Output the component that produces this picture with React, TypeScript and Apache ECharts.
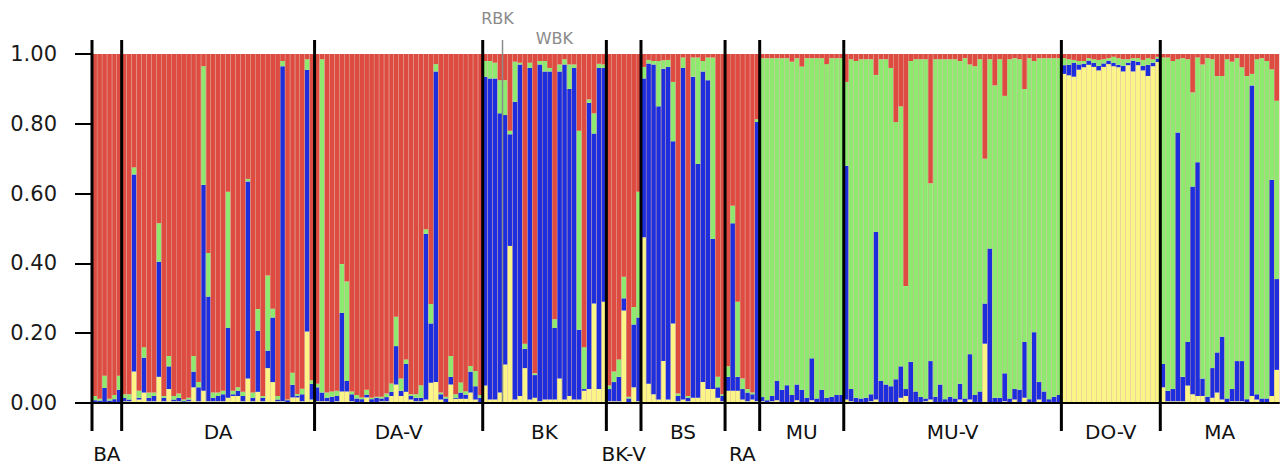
import React, { useEffect, useRef } from "react";
import * as echarts from "echarts";

// Population groups, in plot order
const GROUP_NAMES = ["BA", "DA", "DA-V", "BK", "BK-V", "BS", "RA", "MU", "MU-V", "DO-V", "MA"];
const LOWER_ROW_GROUPS = ["BA", "BK-V", "RA"];
// Clusters, stacked bottom to top
const CLUSTERS = ["K1 (yellow)", "K2 (blue)", "K3 (green)", "K4 (red)"];
const CLUSTER_COLORS = ["#FBF487", "#1E2EDC", "#8DEA6E", "#DE4B40"];
const Y_MAX = 1;
const Y_STEP = 0.2;
// Sub-group marks inside BK
const SUBGROUPS = ["RBK", "WBK"];
const RBK_COUNT = 4;

// Each row: [yellow, blue, green, red] ancestry proportions of one individual
const BA = [
  [0.003, 0.005, 0.012, 0.98],
  [0.002, 0.005, 0.005, 0.988],
  [0.003, 0.04, 0.035, 0.922],
  [0.002, 0.005, 0.005, 0.988],
  [0.003, 0.008, 0.012, 0.977],
  [0.003, 0.035, 0.04, 0.922],
];

const DA = [
  [0.005, 0.01, 0.01, 0.975],
  [0.005, 0.005, 0.015, 0.975],
  [0.09, 0.565, 0.02, 0.325],
  [0.01, 0.005, 0.02, 0.965],
  [0.03, 0.1, 0.03, 0.84],
  [0.005, 0.01, 0.015, 0.97],
  [0.005, 0.015, 0.01, 0.97],
  [0.075, 0.33, 0.11, 0.485],
  [0.005, 0.01, 0.005, 0.98],
  [0.04, 0.065, 0.03, 0.865],
  [0.005, 0.005, 0.01, 0.98],
  [0.005, 0.01, 0.012, 0.973],
  [0.0, 0.005, 0.005, 0.99],
  [0.005, 0.005, 0.005, 0.985],
  [0.045, 0.045, 0.045, 0.865],
  [0.005, 0.04, 0.015, 0.94],
  [0.035, 0.59, 0.34, 0.035],
  [0.005, 0.3, 0.125, 0.57],
  [0.005, 0.01, 0.015, 0.97],
  [0.005, 0.015, 0.01, 0.97],
  [0.005, 0.02, 0.01, 0.965],
  [0.015, 0.2, 0.39, 0.395],
  [0.02, 0.005, 0.01, 0.965],
  [0.02, 0.015, 0.01, 0.955],
  [0.005, 0.015, 0.012, 0.968],
  [0.07, 0.565, 0.007, 0.358],
  [0.005, 0.01, 0.015, 0.97],
  [0.032, 0.175, 0.062, 0.731],
  [0.005, 0.01, 0.005, 0.98],
  [0.1, 0.05, 0.215, 0.635],
  [0.06, 0.185, 0.025, 0.73],
  [0.005, 0.005, 0.01, 0.98],
  [0.005, 0.96, 0.015, 0.02],
  [0.0, 0.008, 0.002, 0.99],
  [0.016, 0.036, 0.035, 0.913],
  [0.016, 0.005, 0.005, 0.974],
  [0.005, 0.02, 0.016, 0.959],
  [0.205, 0.75, 0.03, 0.015],
  [0.01, 0.045, 0.01, 0.935],
];

const DA_V = [
  [0.005, 0.04, 0.01, 0.945],
  [0.005, 0.025, 0.955, 0.015],
  [0.005, 0.01, 0.015, 0.97],
  [0.003, 0.015, 0.015, 0.967],
  [0.005, 0.015, 0.015, 0.965],
  [0.033, 0.225, 0.14, 0.602],
  [0.033, 0.03, 0.285, 0.652],
  [0.005, 0.02, 0.008, 0.967],
  [0.003, 0.01, 0.01, 0.977],
  [0.003, 0.008, 0.005, 0.984],
  [0.016, 0.008, 0.014, 0.962],
  [0.003, 0.008, 0.004, 0.985],
  [0.003, 0.012, 0.003, 0.982],
  [0.005, 0.008, 0.005, 0.982],
  [0.005, 0.012, 0.01, 0.973],
  [0.02, 0.012, 0.024, 0.944],
  [0.053, 0.11, 0.084, 0.753],
  [0.02, 0.015, 0.035, 0.93],
  [0.032, 0.08, 0.013, 0.875],
  [0.01, 0.01, 0.005, 0.975],
  [0.005, 0.01, 0.01, 0.975],
  [0.005, 0.01, 0.036, 0.949],
  [0.01, 0.475, 0.013, 0.502],
  [0.058, 0.17, 0.056, 0.716],
  [0.06, 0.89, 0.021, 0.029],
  [0.01, 0.015, 0.005, 0.97],
  [0.003, 0.01, 0.005, 0.982],
  [0.053, 0.022, 0.06, 0.865],
  [0.012, 0.003, 0.01, 0.975],
  [0.012, 0.018, 0.029, 0.941],
  [0.012, 0.012, 0.01, 0.966],
  [0.03, 0.06, 0.016, 0.894],
  [0.01, 0.038, 0.044, 0.908],
  [0.003, 0.012, 0.008, 0.977],
];

const BK = [
  [0.05, 0.885, 0.045, 0.02],
  [0.01, 0.92, 0.05, 0.02],
  [0.01, 0.92, 0.045, 0.025],
  [0.03, 0.8, 0.095, 0.075],
  [0.11, 0.715, 0.1, 0.075],
  [0.45, 0.32, 0.01, 0.22],
  [0.01, 0.853, 0.115, 0.022],
  [0.02, 0.95, 0.005, 0.025],
  [0.1, 0.055, 0.015, 0.83],
  [0.01, 0.95, 0.015, 0.025],
  [0.015, 0.065, 0.005, 0.915],
  [0.005, 0.965, 0.01, 0.02],
  [0.01, 0.94, 0.03, 0.02],
  [0.01, 0.94, 0.01, 0.04],
  [0.01, 0.205, 0.025, 0.76],
  [0.07, 0.88, 0.02, 0.03],
  [0.01, 0.96, 0.015, 0.015],
  [0.02, 0.88, 0.07, 0.03],
  [0.01, 0.95, 0.01, 0.03],
  [0.01, 0.2, 0.57, 0.22],
  [0.035, 0.005, 0.12, 0.84],
  [0.04, 0.82, 0.01, 0.13],
  [0.285, 0.487, 0.058, 0.17],
  [0.04, 0.92, 0.012, 0.028],
  [0.29, 0.67, 0.01, 0.03],
];

const BK_V = [
  [0.005, 0.035, 0.01, 0.95],
  [0.005, 0.055, 0.03, 0.91],
  [0.005, 0.07, 0.05, 0.875],
  [0.265, 0.035, 0.062, 0.638],
  [0.003, 0.01, 0.005, 0.982],
  [0.045, 0.18, 0.05, 0.725],
  [0.005, 0.24, 0.36, 0.395],
];

const BS = [
  [0.475, 0.455, 0.033, 0.037],
  [0.055, 0.918, 0.01, 0.017],
  [0.025, 0.945, 0.01, 0.02],
  [0.01, 0.84, 0.13, 0.02],
  [0.12, 0.838, 0.024, 0.018],
  [0.01, 0.953, 0.02, 0.017],
  [0.228, 0.522, 0.17, 0.08],
  [0.005, 0.015, 0.007, 0.973],
  [0.01, 0.95, 0.03, 0.01],
  [0.005, 0.01, 0.005, 0.98],
  [0.015, 0.92, 0.055, 0.01],
  [0.015, 0.67, 0.305, 0.01],
  [0.06, 0.89, 0.03, 0.02],
  [0.04, 0.885, 0.065, 0.01],
  [0.04, 0.43, 0.52, 0.01],
  [0.015, 0.03, 0.03, 0.925],
  [0.005, 0.015, 0.005, 0.975],
];

const RA = [
  [0.035, 0.04, 0.03, 0.895],
  [0.035, 0.48, 0.05, 0.435],
  [0.035, 0.04, 0.215, 0.71],
  [0.01, 0.03, 0.03, 0.93],
  [0.005, 0.025, 0.01, 0.96],
  [0.01, 0.015, 0.005, 0.97],
  [0.005, 0.8, 0.008, 0.187],
];

const MU = [
  [0.005, 0.012, 0.971, 0.012],
  [0.003, 0.005, 0.98, 0.012],
  [0.005, 0.015, 0.968, 0.012],
  [0.008, 0.055, 0.925, 0.012],
  [0.003, 0.035, 0.95, 0.012],
  [0.003, 0.048, 0.937, 0.012],
  [0.003, 0.02, 0.955, 0.022],
  [0.008, 0.045, 0.935, 0.012],
  [0.003, 0.035, 0.926, 0.036],
  [0.003, 0.012, 0.973, 0.012],
  [0.008, 0.12, 0.86, 0.012],
  [0.003, 0.01, 0.975, 0.012],
  [0.003, 0.035, 0.95, 0.012],
  [0.003, 0.012, 0.956, 0.029],
  [0.003, 0.015, 0.97, 0.012],
  [0.003, 0.02, 0.965, 0.012],
  [0.003, 0.02, 0.965, 0.012],
];

const MU_V = [
  [0.01, 0.67, 0.24, 0.08],
  [0.005, 0.035, 0.945, 0.015],
  [0.003, 0.012, 0.965, 0.02],
  [0.003, 0.01, 0.972, 0.015],
  [0.003, 0.012, 0.97, 0.015],
  [0.005, 0.02, 0.96, 0.015],
  [0.01, 0.48, 0.45, 0.06],
  [0.003, 0.06, 0.922, 0.015],
  [0.003, 0.05, 0.932, 0.015],
  [0.003, 0.045, 0.912, 0.04],
  [0.003, 0.065, 0.737, 0.195],
  [0.015, 0.09, 0.745, 0.15],
  [0.02, 0.02, 0.295, 0.665],
  [0.003, 0.115, 0.862, 0.02],
  [0.003, 0.03, 0.952, 0.015],
  [0.003, 0.015, 0.967, 0.015],
  [0.005, 0.008, 0.972, 0.015],
  [0.01, 0.11, 0.51, 0.37],
  [0.003, 0.015, 0.967, 0.015],
  [0.003, 0.05, 0.932, 0.015],
  [0.003, 0.008, 0.974, 0.015],
  [0.003, 0.015, 0.967, 0.015],
  [0.003, 0.01, 0.972, 0.015],
  [0.01, 0.045, 0.925, 0.02],
  [0.003, 0.01, 0.975, 0.012],
  [0.01, 0.13, 0.83, 0.03],
  [0.003, 0.02, 0.942, 0.035],
  [0.003, 0.03, 0.952, 0.015],
  [0.17, 0.115, 0.415, 0.3],
  [0.003, 0.44, 0.542, 0.015],
  [0.003, 0.012, 0.895, 0.09],
  [0.003, 0.012, 0.97, 0.015],
  [0.005, 0.08, 0.795, 0.12],
  [0.003, 0.01, 0.972, 0.015],
  [0.01, 0.03, 0.948, 0.012],
  [0.003, 0.035, 0.947, 0.015],
  [0.015, 0.16, 0.725, 0.1],
  [0.003, 0.008, 0.977, 0.012],
  [0.003, 0.2, 0.777, 0.02],
  [0.01, 0.05, 0.928, 0.012],
  [0.003, 0.03, 0.955, 0.012],
  [0.003, 0.008, 0.977, 0.012],
  [0.003, 0.015, 0.97, 0.012],
  [0.003, 0.02, 0.965, 0.012],
];

const DO_V = [
  [0.943, 0.025, 0.02, 0.012],
  [0.939, 0.03, 0.016, 0.015],
  [0.935, 0.04, 0.008, 0.017],
  [0.955, 0.015, 0.01, 0.02],
  [0.962, 0.01, 0.008, 0.02],
  [0.969, 0.012, 0.007, 0.012],
  [0.963, 0.012, 0.01, 0.015],
  [0.953, 0.013, 0.017, 0.017],
  [0.963, 0.01, 0.012, 0.015],
  [0.971, 0.01, 0.007, 0.012],
  [0.965, 0.01, 0.017, 0.008],
  [0.962, 0.007, 0.019, 0.012],
  [0.95, 0.016, 0.019, 0.015],
  [0.968, 0.007, 0.01, 0.015],
  [0.95, 0.031, 0.007, 0.012],
  [0.968, 0.01, 0.01, 0.012],
  [0.953, 0.013, 0.017, 0.017],
  [0.937, 0.032, 0.019, 0.012],
  [0.965, 0.01, 0.01, 0.015],
  [0.977, 0.01, 0.005, 0.008],
];

const MA = [
  [0.045, 0.067, 0.878, 0.01],
  [0.005, 0.03, 0.955, 0.01],
  [0.005, 0.035, 0.94, 0.02],
  [0.005, 0.77, 0.21, 0.015],
  [0.005, 0.07, 0.913, 0.012],
  [0.05, 0.125, 0.81, 0.015],
  [0.025, 0.595, 0.27, 0.11],
  [0.02, 0.67, 0.3, 0.01],
  [0.02, 0.05, 0.9, 0.03],
  [0.003, 0.015, 0.97, 0.012],
  [0.015, 0.085, 0.885, 0.015],
  [0.03, 0.115, 0.792, 0.063],
  [0.01, 0.18, 0.747, 0.063],
  [0.003, 0.01, 0.972, 0.015],
  [0.005, 0.035, 0.938, 0.022],
  [0.005, 0.115, 0.868, 0.012],
  [0.005, 0.115, 0.842, 0.038],
  [0.003, 0.008, 0.926, 0.063],
  [0.02, 0.89, 0.033, 0.057],
  [0.01, 0.015, 0.96, 0.015],
  [0.003, 0.01, 0.975, 0.012],
  [0.003, 0.01, 0.967, 0.02],
  [0.02, 0.62, 0.316, 0.044],
  [0.095, 0.26, 0.511, 0.134],
];

const GROUP_ROWS = [BA, DA, DA_V, BK, BK_V, BS, RA, MU, MU_V, DO_V, MA];

const FONT = "'DejaVu Sans', Verdana, sans-serif";

export default function App() {
  const ref = useRef<HTMLDivElement>(null);

  useEffect(() => {
    const el = ref.current;
    if (!el) return;
    const chart = echarts.init(el, null, { renderer: "svg" });

    const categories: string[] = [];
    const starts: number[] = [];
    const data: number[][] = CLUSTERS.map(() => []);
    GROUP_ROWS.forEach((rows, g) => {
      starts.push(categories.length);
      rows.forEach((r, i) => {
        categories.push(GROUP_NAMES[g] + " " + (i + 1));
        r.forEach((v, k) => data[k].push(v));
      });
    });
    const n = categories.length;

    chart.setOption({
      animation: false,
      backgroundColor: "#ffffff",
      grid: { left: 92, right: 2, top: 54, bottom: 63, containLabel: false },
      xAxis: {
        type: "category",
        data: categories,
        boundaryGap: true,
        z: 3,
        silent: true,
        axisLine: { show: true, lineStyle: { color: "#000", width: 2 } },
        axisTick: { show: false },
        axisLabel: { show: false },
        splitLine: {
          show: true,
          interval: 0,
          lineStyle: { color: "rgba(215,170,155,0.55)", width: 0.8 },
        },
      },
      yAxis: {
        type: "value",
        min: 0,
        max: Y_MAX,
        interval: Y_STEP,
        silent: true,
        axisLine: { show: false },
        axisTick: { show: true, length: 17, lineStyle: { color: "#000", width: 2 } },
        axisLabel: {
          formatter: (v: number) => v.toFixed(2),
          fontSize: 21,
          fontFamily: FONT,
          color: "#1a1a1a",
          margin: 35,
        },
        splitLine: { show: false },
      },
      series: CLUSTERS.map((name, k) => ({
        name,
        type: "bar",
        stack: "q",
        data: data[k],
        barCategoryGap: "0%",
        barGap: "0%",
        silent: true,
        itemStyle: { color: CLUSTER_COLORS[k], borderWidth: 0 },
        emphasis: { disabled: true },
      })),
    });

    const cx = (i: number) => chart.convertToPixel({ xAxisIndex: 0 }, categories[i]) as number;
    const bw = cx(1) - cx(0);
    const edge = (i: number) => cx(0) - bw / 2 + i * bw;
    const yTop = chart.convertToPixel({ yAxisIndex: 0 }, Y_MAX) as number;
    const yBase = chart.convertToPixel({ yAxisIndex: 0 }, 0) as number;

    const graphics: any[] = [];
    starts.forEach((s, g) => {
      const x = edge(s);
      graphics.push({
        type: "line",
        z: 100,
        silent: true,
        shape: { x1: x, y1: yTop - 14, x2: x, y2: yBase + 28 },
        style: { stroke: "#000", lineWidth: 3 },
      });
      const end = g + 1 < starts.length ? starts[g + 1] : n;
      const mid = (edge(s) + edge(end)) / 2;
      const lower = LOWER_ROW_GROUPS.indexOf(GROUP_NAMES[g]) >= 0;
      graphics.push({
        type: "text",
        z: 100,
        silent: true,
        x: mid,
        y: yBase + (lower ? 51 : 29),
        style: {
          text: GROUP_NAMES[g],
          fill: "#111",
          fontSize: 20,
          fontFamily: FONT,
          align: "center",
          verticalAlign: "middle",
          textAlign: "center",
          textVerticalAlign: "middle",
        },
      });
    });

    // RBK / WBK sub-group marks inside BK
    const bkIndex = GROUP_NAMES.indexOf("BK");
    const bkStart = starts[bkIndex];
    const bkEnd = starts[bkIndex + 1];
    const subX = edge(bkStart + RBK_COUNT);
    graphics.push({
      type: "line",
      z: 101,
      silent: true,
      shape: { x1: subX, y1: yTop - 14, x2: subX, y2: yBase - 1 },
      style: { stroke: "#8c8c8c", lineWidth: 1.5 },
    });
    graphics.push({
      type: "text",
      z: 101,
      silent: true,
      x: subX - 5,
      y: yTop - 36,
      style: {
        text: SUBGROUPS[0],
        fill: "#8a8a8a",
        fontSize: 16,
        fontFamily: FONT,
        align: "center",
        verticalAlign: "middle",
        textAlign: "center",
        textVerticalAlign: "middle",
      },
    });
    graphics.push({
      type: "text",
      z: 101,
      silent: true,
      x: (subX + edge(bkEnd)) / 2,
      y: yTop - 16,
      style: {
        text: SUBGROUPS[1],
        fill: "#8a8a8a",
        fontSize: 16,
        fontFamily: FONT,
        align: "center",
        verticalAlign: "middle",
        textAlign: "center",
        textVerticalAlign: "middle",
      },
    });

    chart.setOption({ graphic: graphics });

    return () => {
      chart.dispose();
    };
  }, []);

  return (
    <div
      ref={ref}
      style={{ position: "fixed", left: 0, top: 0, width: 1281, height: 466, background: "#fff" }}
    />
  );
}
